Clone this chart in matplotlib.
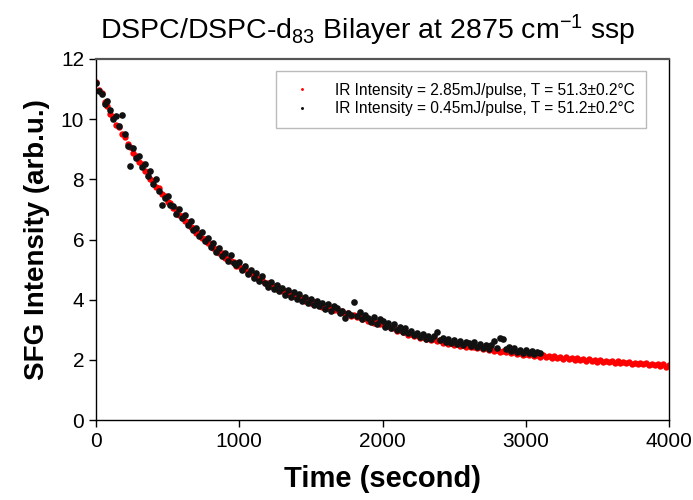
"""
# SFG decay of DSPC/DSPC-d83 bilayer at two IR intensities
"""

import numpy as np
import matplotlib
matplotlib.use('Agg')
import matplotlib.pyplot as plt

# red: 2.85 mJ/pulse, one reading every 20 s from 0 s to 4000 s
red_step = 20
red_v = [11.25, 10.98, 10.86, 10.57, 10.43,
         10.16, 10.07, 9.82, 9.74, 9.50,
         9.40, 9.17, 9.09, 8.86, 8.79,
         8.56, 8.50, 8.29, 8.23, 8.02,
         7.95, 7.76, 7.71, 7.51, 7.46,
         7.26, 7.22, 7.04, 7.01, 6.83,
         6.79, 6.62, 6.59, 6.42, 6.39,
         6.22, 6.20, 6.04, 6.03, 5.87,
         5.85, 5.71, 5.70, 5.55, 5.54,
         5.40, 5.40, 5.27, 5.26, 5.13,
         5.13, 5.01, 5.01, 4.89, 4.88,
         4.77, 4.78, 4.67, 4.66, 4.56,
         4.57, 4.47, 4.47, 4.37, 4.38,
         4.28, 4.30, 4.20, 4.22, 4.12,
         4.14, 4.05, 4.07, 3.97, 3.99,
         3.90, 3.93, 3.84, 3.86, 3.76,
         3.79, 3.71, 3.73, 3.64, 3.66,
         3.58, 3.61, 3.52, 3.55, 3.47,
         3.50, 3.42, 3.44, 3.36, 3.38,
         3.30, 3.33, 3.24, 3.27, 3.19,
         3.22, 3.12, 3.14, 3.05, 3.06,
         2.97, 2.99, 2.91, 2.93, 2.84,
         2.87, 2.79, 2.81, 2.74, 2.76,
         2.69, 2.73, 2.65, 2.68, 2.61,
         2.65, 2.57, 2.60, 2.54, 2.57,
         2.50, 2.54, 2.47, 2.50, 2.44,
         2.48, 2.41, 2.44, 2.38, 2.41,
         2.35, 2.39, 2.32, 2.36, 2.30,
         2.34, 2.27, 2.31, 2.25, 2.28,
         2.22, 2.26, 2.20, 2.23, 2.17,
         2.21, 2.15, 2.19, 2.13, 2.17,
         2.11, 2.16, 2.09, 2.13, 2.07,
         2.12, 2.05, 2.10, 2.04, 2.08,
         2.02, 2.07, 2.00, 2.05, 1.99,
         2.04, 1.97, 2.02, 1.96, 2.00,
         1.94, 1.99, 1.93, 1.97, 1.92,
         1.96, 1.91, 1.95, 1.89, 1.94,
         1.88, 1.93, 1.87, 1.91, 1.85,
         1.90, 1.85, 1.89, 1.83, 1.87,
         1.82, 1.87, 1.81, 1.85, 1.76,
         1.83]

# black: 0.45 mJ/pulse, one reading every 20 s from 0 s to ~3100 s
black_step = 20
black_v = [11.20, 10.95, 10.82, 10.50, 10.62,
           10.30, 10.02, 10.10, 9.78, 10.15,
           9.50, 9.12, 8.45, 9.05, 8.70,
           8.78, 8.40, 8.52, 8.12, 8.28,
           7.85, 8.00, 7.62, 7.15, 7.38,
           7.45, 7.15, 7.10, 6.85, 7.02,
           6.70, 6.82, 6.48, 6.60, 6.30,
           6.38, 6.10, 6.25, 5.95, 6.05,
           5.75, 5.88, 5.60, 5.72, 5.45,
           5.55, 5.30, 5.48, 5.22, 5.15,
           5.25, 4.98, 5.12, 4.85, 5.00,
           4.72, 4.88, 4.62, 4.78, 4.55,
           4.42, 4.60, 4.35, 4.50, 4.28,
           4.38, 4.15, 4.32, 4.08, 4.25,
           4.02, 4.18, 3.95, 4.10, 3.88,
           4.02, 3.82, 3.95, 3.78, 3.90,
           3.68, 3.85, 3.62, 3.78, 3.72,
           3.55, 3.62, 3.40, 3.55, 3.48,
           3.92, 3.45, 3.60, 3.35, 3.48,
           3.38, 3.25, 3.42, 3.20, 3.35,
           3.28, 3.10, 3.22, 3.05, 3.18,
           2.98, 3.10, 2.92, 3.05, 2.88,
           2.95, 2.82, 2.90, 2.75, 2.85,
           2.70, 2.80, 2.68, 2.78, 2.92,
           2.65, 2.72, 2.58, 2.70, 2.55,
           2.66, 2.52, 2.62, 2.48, 2.60,
           2.55, 2.45, 2.58, 2.42, 2.52,
           2.40, 2.50, 2.36, 2.48, 2.62,
           2.38, 2.72, 2.68, 2.35, 2.42,
           2.30, 2.38, 2.26, 2.34, 2.24,
           2.32, 2.22, 2.28, 2.20, 2.25,
           2.22]

red_label = 'IR Intensity = 2.85mJ/pulse, T = 51.3\u00b10.2\u00b0C'
black_label = 'IR Intensity = 0.45mJ/pulse, T = 51.2\u00b10.2\u00b0C'
title = 'DSPC/DSPC-d$_{83}$ Bilayer at 2875 cm$^{-1}$ ssp'
x_ticks = [0, 1000, 2000, 3000, 4000]
y_ticks = [0, 2, 4, 6, 8, 10, 12]

red_t = np.arange(len(red_v)) * red_step
black_t = np.arange(len(black_v)) * black_step

plt.rcParams['font.family'] = ['Liberation Sans', 'DejaVu Sans']
plt.rcParams['mathtext.fontset'] = 'custom'
plt.rcParams['mathtext.rm'] = 'Liberation Sans'
plt.rcParams['mathtext.it'] = 'Liberation Sans:italic'

fig = plt.figure(figsize=(6.93, 5.00), dpi=100)
ax = fig.add_axes([0.1385, 0.16, 0.827, 0.722])

ax.plot(red_t, red_v, 'o', color='#ff0000', ms=4.6, mew=0, label=red_label)
ax.plot(black_t, black_v, 'o', color='#111111', ms=4.8, mew=0, label=black_label)

ax.set_xlim(0, 4000)
ax.set_ylim(0, 12)
ax.set_xticks(x_ticks)
ax.set_yticks(y_ticks)
ax.tick_params(direction='out', length=5, width=1, labelsize=15, colors='black')
for s in ['left', 'bottom', 'right']:
    ax.spines[s].set_color('black')
    ax.spines[s].set_linewidth(1.0)
ax.spines['top'].set_color('#555555')
ax.spines['top'].set_linewidth(1.6)

ax.set_xlabel('Time (second)', fontsize=21, fontweight='bold', labelpad=10)
ax.set_ylabel('SFG Intensity (arb.u.)', fontsize=20, fontweight='bold', labelpad=8)
fig.text(0.53, 0.94, title, fontsize=20.5, ha='center', va='center')

leg = ax.legend(loc='upper right', bbox_to_anchor=(0.96, 0.966), borderaxespad=0,
                fontsize=11.2, frameon=True, fancybox=False, markerscale=0.45,
                handletextpad=1.2, borderpad=0.75, labelspacing=0.2, handlelength=1.8)
leg.get_frame().set_edgecolor('#aaaaaa')
leg.get_frame().set_linewidth(1.0)

plt.savefig('out.png', dpi=100)
